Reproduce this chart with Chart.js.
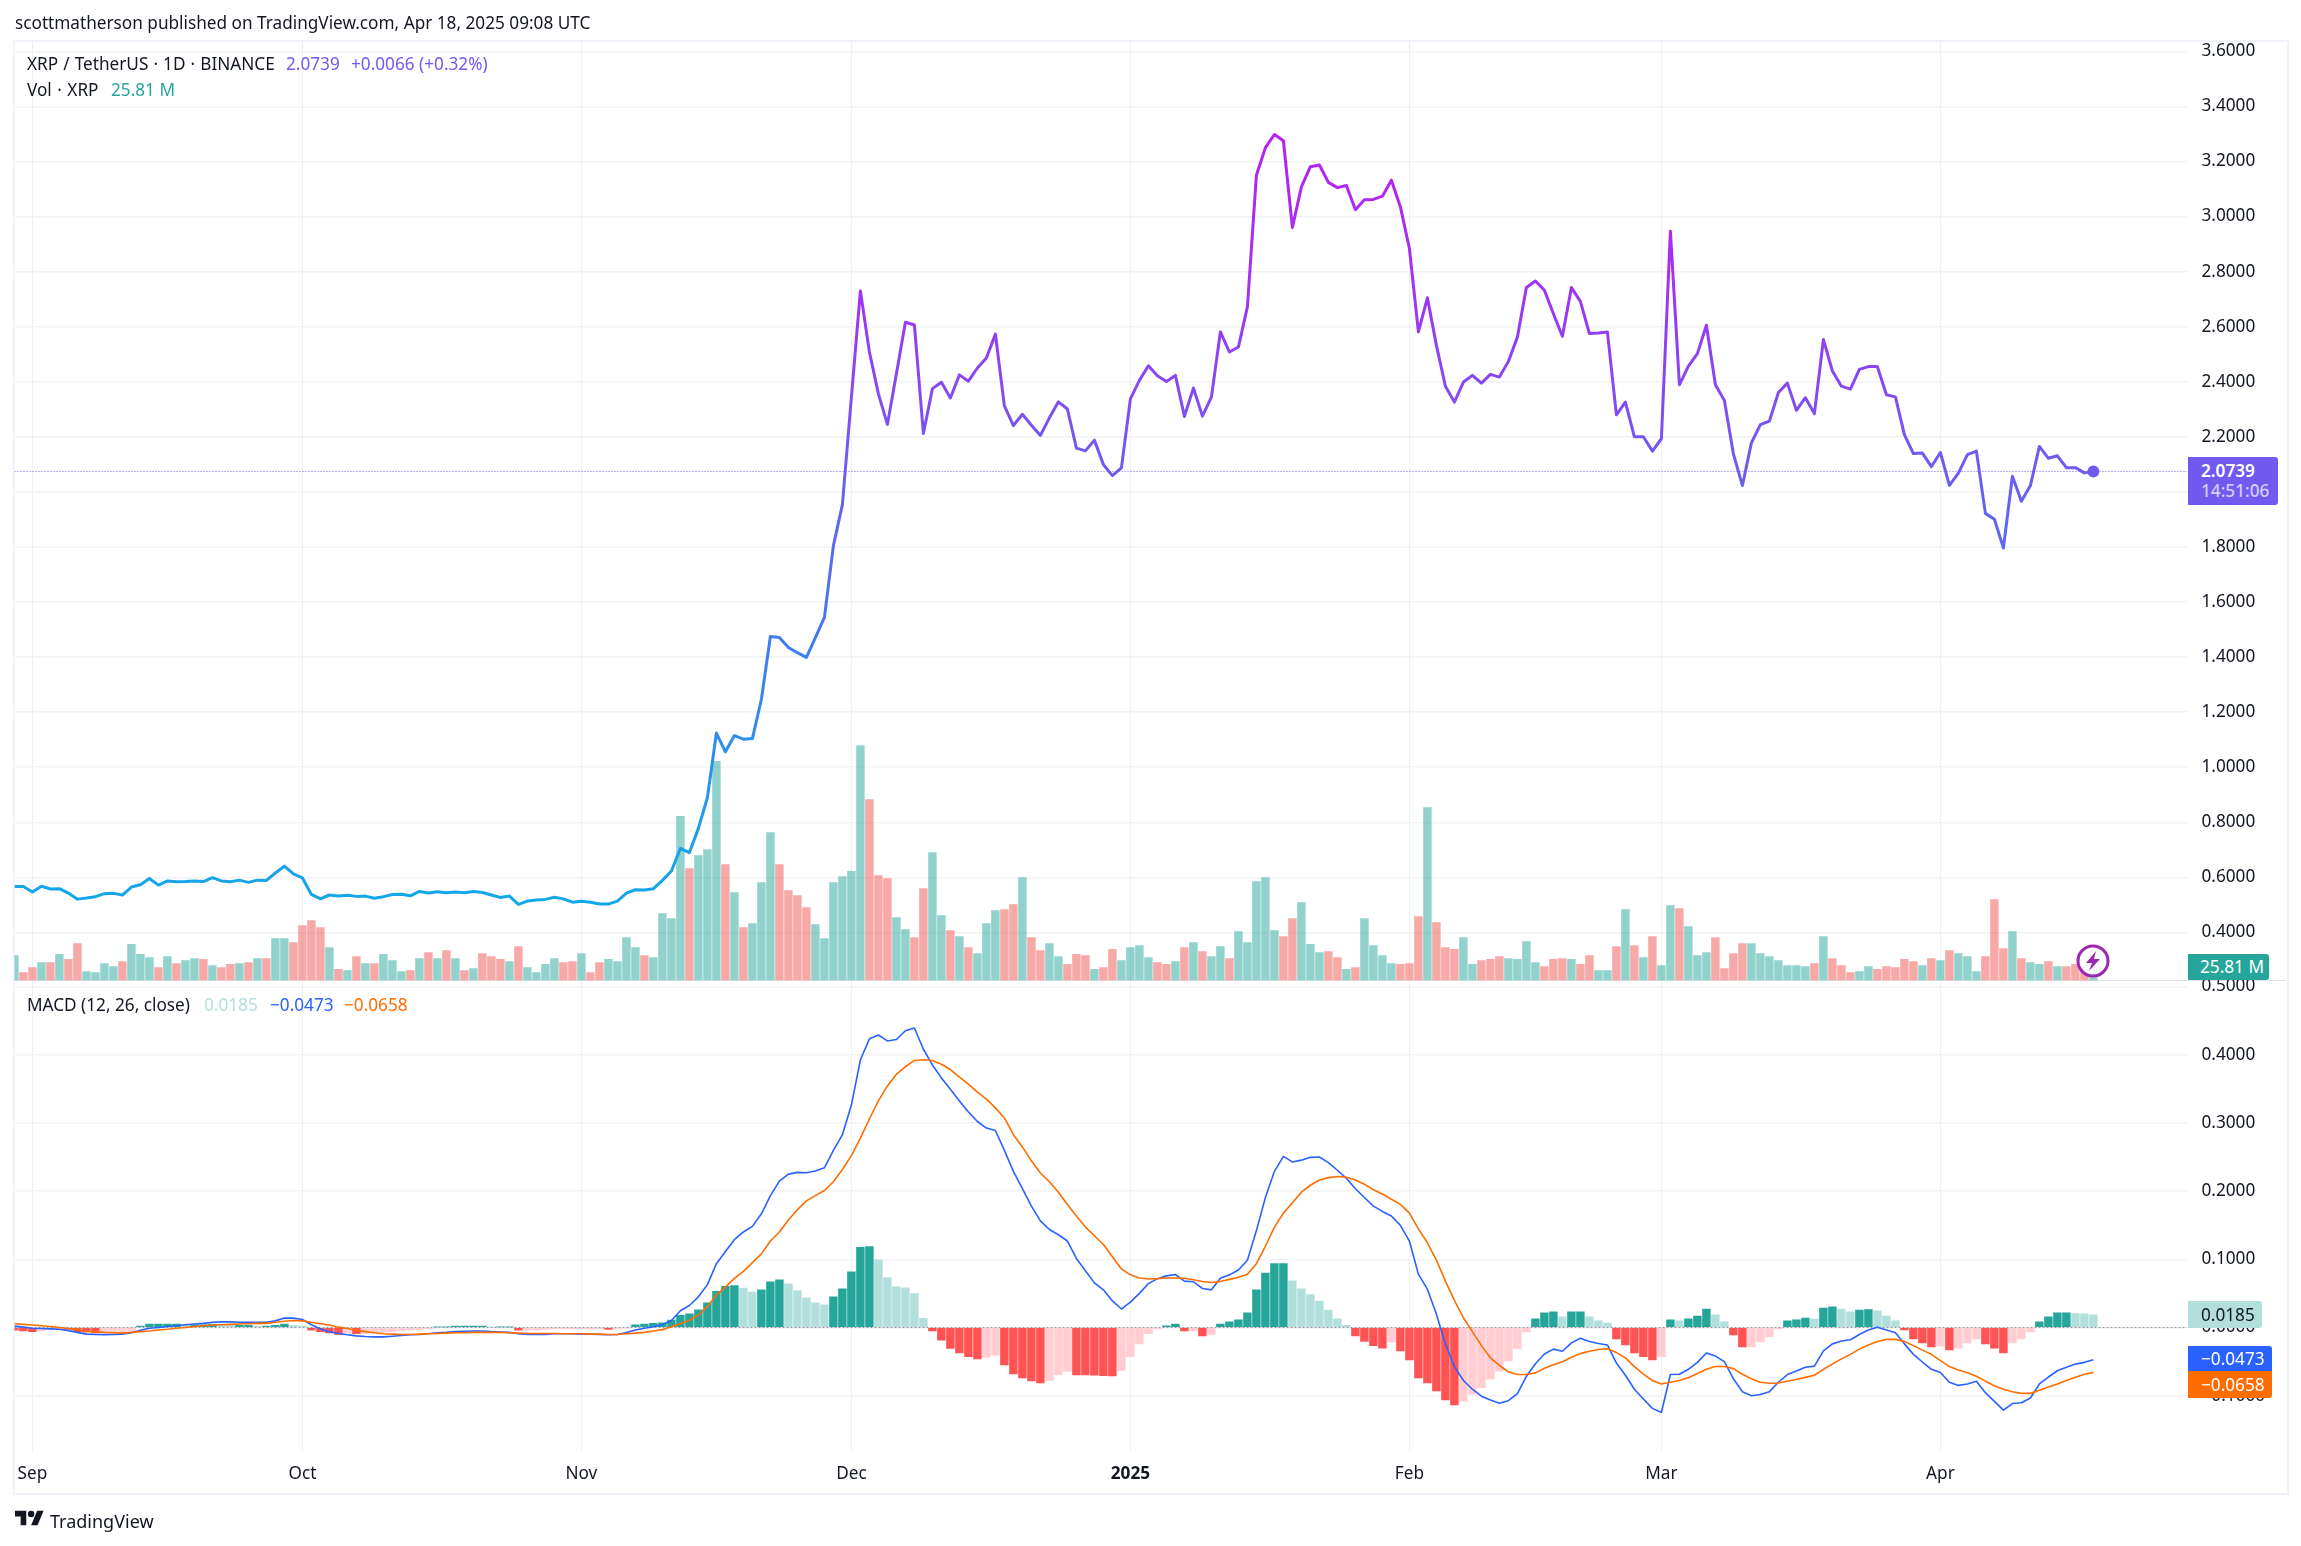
<!DOCTYPE html>
<html>
<head>
<meta charset="utf-8">
<script src="https://cdn.jsdelivr.net/npm/chart.js@4"></script>
<style>
  html, body { margin: 0; padding: 0; background: #fff; }
  body { width: 2301px; height: 1546px; position: relative; overflow: hidden; font-family: "Noto Sans", sans-serif; font-size: 17.2px; color: #131722; }
  canvas { position: absolute; left: 0; top: 0; }
  .t { position: absolute; white-space: nowrap; line-height: 24px; }
  .box { position: absolute; left: 2188px; border-radius: 0 3px 3px 0; }
  #frame { position: absolute; left: 13px; top: 40px; width: 2272px; height: 1451px; border: 2px solid #f0f3fa; }
  #sep { position: absolute; left: 15px; top: 980px; width: 2271px; height: 1px; background: #e0e3eb; }
</style>
</head>
<body>
<div id="frame"></div>
<div id="sep"></div>
<canvas id="graficoPreco" width="2301" height="1546"></canvas>
<canvas id="graficoMacd" width="2301" height="1546"></canvas>

<div class="t" style="left:15px;top:11px">scottmatherson published on TradingView.com, Apr 18, 2025 09:08 UTC</div>
<div class="t" style="left:27px;top:52px;word-spacing:0.6px">XRP / TetherUS · 1D · BINANCE</div>
<div class="t" style="left:286px;top:52px;color:#7259f0">2.0739</div>
<div class="t" style="left:351px;top:52px;color:#7259f0">+0.0066 (+0.32%)</div>
<div class="t" style="left:27px;top:78px;word-spacing:1px">Vol · XRP</div>
<div class="t" style="left:111px;top:78px;color:#26a69a">25.81 M</div>
<div class="t" style="left:27px;top:993px">MACD (12, 26, close)</div>
<div class="t" style="left:204px;top:993px;color:#b2dfdb">0.0185</div>
<div class="t" style="left:270px;top:993px;color:#2962ff">−0.0473</div>
<div class="t" style="left:344px;top:993px;color:#ff6d00">−0.0658</div>

<div class="box" style="top:457px;width:90px;height:48px;background:#7259f0"></div>
<div class="t" style="left:2201px;top:459px;color:#fff;font-weight:600">2.0739</div>
<div class="t" style="left:2201px;top:479px;color:#d5cdfa;font-weight:500">14:51:06</div>
<div class="box" style="top:954px;width:81px;height:26px;background:#26a69a"></div>
<div class="t" style="left:2200px;top:955px;color:#fff">25.81 M</div>
<div class="box" style="top:1301px;width:74px;height:27px;background:#b2dfdb"></div>
<div class="t" style="left:2201px;top:1303px">0.0185</div>
<div class="box" style="top:1346px;width:84px;height:25px;background:#2962ff;border-radius:0 3px 0 0"></div>
<div class="t" style="left:2201px;top:1347px;color:#fff">−0.0473</div>
<div class="box" style="top:1371px;width:84px;height:27px;background:#ff6d00;border-radius:0 0 3px 0"></div>
<div class="t" style="left:2201px;top:1373px;color:#fff">−0.0658</div>

<svg style="position:absolute;left:2076px;top:944px" width="34" height="34" viewBox="0 0 34 34">
  <circle cx="17" cy="17" r="15" fill="#fff" stroke="#9c27b0" stroke-width="3"/>
  <path d="M20 7 L10 19 H16 L13 27 L24 15 H18 Z" fill="#9c27b0"/>
</svg>
<svg style="position:absolute;left:15px;top:1509px" width="29" height="18" viewBox="0 4 36 18">
  <path d="M14 22H7V11H0V4h14v18zM28 22h-8l7.5-18h8L28 22z" fill="#131722"/>
  <circle cx="20" cy="8" r="4" fill="#131722"/>
</svg>
<div class="t" style="left:50px;top:1509px;font-size:18px">TradingView</div>

<script>
// dias contados a partir de 1 de setembro; a serie comeca em 30 de agosto
const primeiroDia = -2;
const diasMes = [0, 30, 61, 91, 122, 153, 181, 212];
const nomesMes = ['Sep', 'Oct', 'Nov', 'Dec', '2025', 'Feb', 'Mar', 'Apr'];
const ticksPreco = [3.6, 3.4, 3.2, 3.0, 2.8, 2.6, 2.4, 2.2, 2.0, 1.8, 1.6, 1.4, 1.2, 1.0, 0.8, 0.6, 0.4];
const ticksMacd = [0.5, 0.4, 0.3, 0.2, 0.1, 0, -0.1];

const fechamentos = [
  .567,.567,.547,.568,.558,.559,.543,.521,.525,.530,
  .541,.542,.536,.565,.573,.596,.572,.587,.584,.585,
  .587,.585,.599,.587,.584,.590,.582,.590,.589,.616,
  .641,.613,.598,.538,.522,.536,.532,.535,.531,.532,
  .524,.530,.538,.539,.533,.549,.543,.548,.544,.547,
  .544,.549,.545,.536,.527,.532,.502,.514,.518,.520,
  .528,.522,.510,.513,.510,.503,.503,.514,.543,.555,
  .554,.559,.589,.623,.705,.690,.778,.890,1.124,1.056,
  1.115,1.102,1.104,1.247,1.475,1.471,1.435,1.416,1.399,1.471,
  1.544,1.805,1.954,2.344,2.730,2.508,2.356,2.245,2.429,2.616,
  2.606,2.212,2.375,2.398,2.341,2.425,2.402,2.450,2.486,2.573,
  2.312,2.241,2.282,2.242,2.205,2.269,2.327,2.301,2.159,2.149,
  2.188,2.099,2.059,2.087,2.338,2.405,2.458,2.422,2.401,2.423,
  2.274,2.377,2.275,2.344,2.581,2.508,2.526,2.672,3.150,3.250,
  3.298,3.275,2.960,3.108,3.181,3.187,3.124,3.105,3.113,3.025,
  3.061,3.062,3.074,3.132,3.035,2.884,2.581,2.705,2.532,2.384,
  2.326,2.399,2.423,2.395,2.427,2.417,2.474,2.562,2.742,2.766,
  2.732,2.647,2.565,2.742,2.692,2.575,2.577,2.581,2.280,2.326,
  2.200,2.200,2.148,2.193,2.947,2.389,2.457,2.502,2.605,2.389,
  2.332,2.138,2.023,2.178,2.244,2.257,2.361,2.395,2.296,2.342,
  2.284,2.553,2.439,2.384,2.373,2.445,2.455,2.455,2.353,2.345,
  2.208,2.139,2.141,2.092,2.143,2.024,2.068,2.135,2.148,1.922,
  1.901,1.796,2.057,1.966,2.023,2.165,2.122,2.131,2.088,2.088,
  2.069,2.0739
];

// volume em milhoes
const volumes = [
  215,69,112,155,155,224,181,318,77,69,
  146,120,163,310,224,198,112,206,146,172,
  189,181,129,112,138,146,155,189,189,361,
  361,327,473,516,456,284,95,86,206,146,
  146,224,172,77,86,189,241,189,258,189,
  86,103,232,206,181,163,292,112,69,138,
  189,155,163,232,69,155,181,163,370,284,
  215,198,576,533,1411,963,1075,1127,1884,998,
  757,456,490,843,1273,998,774,731,628,482,
  361,843,894,938,2021,1557,903,877,542,439,
  370,791,1101,559,430,378,284,232,490,602,
  611,654,886,370,258,318,206,138,224,215,
  95,112,267,172,284,301,198,155,138,163,
  284,327,249,206,292,189,421,327,851,886,
  430,378,533,671,310,241,249,198,95,112,
  533,301,215,146,138,146,550,1488,499,284,
  267,370,138,172,181,206,189,181,335,155,
  120,181,189,181,138,215,86,86,292,611,
  301,198,378,129,645,619,464,215,241,370,
  103,232,318,318,232,206,172,129,129,120,
  146,378,189,129,69,77,120,95,120,112,
  181,163,129,189,172,258,232,206,77,206,
  697,275,421,189,155,138,163,120,120,138,
  100,25.81
];

const volumeSobe = [
  1,0,0,1,0,1,0,0,1,1,
  1,1,0,1,1,1,0,1,0,1,
  1,0,1,0,0,1,0,1,0,1,
  1,0,0,0,0,1,0,1,0,1,
  0,1,1,1,0,1,0,1,0,1,
  0,1,0,0,0,1,0,1,1,1,
  1,0,0,1,0,0,1,1,1,1,
  0,1,1,1,1,0,1,1,1,0,
  1,0,1,1,1,0,0,0,0,1,
  1,1,1,1,1,0,0,0,1,1,
  0,0,1,1,0,1,0,1,1,1,
  0,0,1,0,0,1,1,0,0,0,
  1,0,0,1,1,1,1,0,0,1,
  0,1,0,1,1,0,1,1,1,1,
  1,0,0,1,1,1,0,0,1,0,
  1,1,1,1,0,0,0,1,0,0,
  0,1,1,0,0,0,1,1,1,1,
  0,0,0,1,0,0,1,1,0,1,
  0,1,0,1,1,0,1,1,1,0,
  0,0,0,1,1,1,1,1,1,1,
  0,1,0,0,0,1,1,0,0,0,
  0,0,1,0,1,0,1,1,1,0,
  0,0,1,0,1,1,0,1,0,0,
  0,1
];

const linhaMacd = [
  .002,.0005,-.001,-.0015,-.002,-.0026,-.0046,-.0072,-.0097,-.0102,
  -.0105,-.0102,-.0097,-.0077,-.0041,-.001,0,.0015,.0026,.0041,
  .0051,.0061,.0077,.0082,.0082,.0077,.0077,.0077,.0077,.0097,
  .0138,.0138,.0118,.0041,-.002,-.0061,-.0087,-.0107,-.0123,-.0133,
  -.0138,-.0138,-.0128,-.0118,-.0107,-.0102,-.0092,-.0077,-.0072,-.0061,
  -.0056,-.0051,-.0051,-.0061,-.0066,-.0072,-.0092,-.0102,-.0102,-.0102,
  -.0092,-.0092,-.0092,-.0097,-.0097,-.0102,-.0107,-.0102,-.0072,-.0036,
  -.001,.001,.0041,.0102,.0245,.0322,.045,.0629,.0936,.1115,
  .1288,.1401,.1483,.1667,.1933,.2147,.2249,.2275,.227,.2296,
  .2342,.2597,.2827,.3262,.3926,.4233,.4289,.4202,.4223,.4351,
  .4392,.408,.385,.366,.3492,.3323,.316,.3021,.2924,.2889,
  .2597,.229,.2035,.1779,.1564,.1437,.136,.1268,.1012,.0833,
  .0654,.0552,.0389,.0271,.0373,.0501,.0644,.0716,.0757,.0777,
  .068,.067,.0573,.0552,.0721,.0772,.0844,.0987,.1421,.1907,
  .229,.251,.2428,.2454,.2495,.25,.2418,.2306,.2188,.2035,
  .1907,.1779,.1702,.1636,.1498,.1268,.0782,.0562,.0194,-.024,
  -.0573,-.0777,-.0905,-.1007,-.1063,-.111,-.1074,-.0971,-.0716,-.0532,
  -.0389,-.0317,-.0348,-.0225,-.0158,-.0205,-.0235,-.0256,-.0521,-.07,
  -.0905,-.1048,-.1186,-.1247,-.069,-.0685,-.0613,-.0511,-.0373,-.0419,
  -.0501,-.0752,-.0941,-.1002,-.0982,-.0941,-.0803,-.069,-.0639,-.0583,
  -.0567,-.0343,-.024,-.0199,-.0179,-.0102,-.0036,.0005,-.0036,-.0077,
  -.024,-.0394,-.0506,-.0613,-.066,-.0803,-.0849,-.0828,-.0787,-.0956,
  -.1084,-.1212,-.1115,-.1104,-.1033,-.0828,-.0726,-.0634,-.0583,-.0537,
  -.0511,-.0473
];

const linhaSinal = [
  .0056,.0046,.0036,.0026,.0015,0,-.0015,-.0031,-.0051,-.0061,
  -.0072,-.0077,-.0082,-.0072,-.0061,-.0051,-.0036,-.0026,-.001,0,
  .0015,.0026,.0036,.0041,.0046,.0051,.0056,.0061,.0061,.0077,
  .0092,.0102,.0097,.0077,.0056,.0036,.0005,-.0015,-.0041,-.0061,
  -.0077,-.0092,-.0097,-.0102,-.0102,-.0097,-.0092,-.0087,-.0082,-.0077,
  -.0077,-.0072,-.0072,-.0072,-.0072,-.0077,-.0082,-.0087,-.0087,-.0087,
  -.0087,-.0092,-.0092,-.0092,-.0097,-.0097,-.0102,-.0102,-.0092,-.0082,
  -.0072,-.0051,-.0031,.001,.0056,.0107,.0179,.0307,.0475,.0593,
  .0721,.0823,.0951,.1079,.1268,.1401,.1575,.1728,.1856,.1933,
  .2009,.2137,.2316,.252,.2776,.3057,.3323,.3543,.3712,.3824,
  .3916,.3926,.3916,.386,.3783,.3671,.3569,.3451,.3349,.3221,
  .3073,.2827,.2648,.2444,.2265,.2137,.1984,.1805,.1636,.1472,
  .1345,.1217,.1038,.0859,.0772,.0726,.0711,.0716,.0726,.0726,
  .0721,.07,.0675,.066,.0675,.0706,.0736,.0782,.0936,.1191,
  .1472,.1677,.183,.1984,.2086,.2163,.2198,.2214,.2204,.2163,
  .2101,.2019,.1958,.1881,.1805,.1677,.1447,.1242,.0987,.068,
  .0399,.0143,-.0061,-.0266,-.0445,-.0557,-.0649,-.069,-.069,-.0665,
  -.0598,-.0547,-.0501,-.0435,-.0383,-.0348,-.0322,-.0312,-.0368,-.0445,
  -.0573,-.0685,-.0777,-.0828,-.0803,-.0777,-.0736,-.0675,-.0613,-.0573,
  -.0573,-.0603,-.0685,-.0752,-.0803,-.0818,-.0813,-.0787,-.0762,-.0731,
  -.07,-.0613,-.0537,-.046,-.0394,-.0317,-.0256,-.0205,-.0174,-.0174,
  -.0205,-.0266,-.0332,-.0394,-.0486,-.0573,-.0624,-.0665,-.0716,-.0787,
  -.0854,-.0905,-.0941,-.0966,-.0966,-.092,-.0874,-.0828,-.0777,-.0731,
  -.0685,-.0658
];

const histograma = [
  -.004,-.005,-.006,-.005,-.002,-.002,-.003,-.006,-.007,-.008,
  -.007,-.007,-.006,-.005,.002,.005,.005,.005,.005,.004,
  .004,.004,.005,.004,.003,.003,.003,.002,.002,.003,
  .005,.003,.002,-.004,-.006,-.008,-.01,-.008,-.009,-.009,
  -.008,-.007,-.006,-.005,-.004,-.003,-.002,.001,.001,.002,
  .002,.002,.002,.001,.001,.001,-.004,-.004,-.004,-.003,
  -.002,-.002,-.002,-.002,-.002,-.002,-.003,-.002,-.001,.004,
  .005,.006,.007,.011,.018,.02,.026,.036,.053,.0603,
  .0613,.0578,.0521,.0552,.067,.07,.0639,.0542,.0435,.0363,
  .0332,.045,.0567,.0818,.1176,.1186,.0992,.0731,.0598,.0583,
  .0496,.0133,-.0051,-.0184,-.0307,-.0373,-.0429,-.046,-.044,-.0404,
  -.0547,-.068,-.0741,-.0782,-.0813,-.0777,-.069,-.0644,-.0695,-.0697,
  -.07,-.0705,-.071,-.0634,-.0429,-.024,-.0092,-.002,.0026,.005,
  -.0051,-.0051,-.0123,-.0102,.0051,.0082,.0112,.0215,.0552,.0798,
  .0936,.0936,.0685,.0567,.0481,.0389,.0256,.0128,.0031,-.0123,
  -.0204,-.0266,-.0302,-.0215,-.0343,-.0475,-.0741,-.0813,-.093,-.1063,
  -.1135,-.1079,-.0976,-.0884,-.0757,-.0639,-.0491,-.0307,-.0066,.0128,
  .0215,.023,.0158,.023,.023,.0158,.0097,.0066,-.0169,-.0256,
  -.0373,-.0429,-.0475,-.0429,.0112,.0097,.0128,.0169,.0271,.0184,
  .0082,-.0107,-.0286,-.0286,-.021,-.0138,-.002,.0097,.0112,.0138,
  .0123,.0286,.0302,.0271,.023,.0256,.0261,.0245,.0169,.0097,
  -.0036,-.0169,-.0225,-.0286,-.0271,-.0327,-.0302,-.0225,-.0169,-.024,
  -.0302,-.0373,-.0225,-.0169,-.0066,.0082,.0158,.0215,.0215,.0205,
  .0199,.0185
];

const fonte = { family: '"Noto Sans", sans-serif', size: 17.2 };
const corTexto = '#131722';
const corGrade = '#f1f2f5';
const xMin = -1.99, xMax = 239.4;

const pontos = serie => serie.map((y, i) => ({ x: primeiroDia + i, y }));

function ticksFixos(valores) {
  return scale => { scale.ticks = valores.map(value => ({ value })); };
}

function eixoX(comRotulos) {
  return {
    type: 'linear',
    min: xMin,
    max: xMax,
    offset: false,
    afterBuildTicks: ticksFixos(diasMes),
    afterFit: scale => { scale.height = comRotulos ? 95 : 0; },
    border: { display: false },
    grid: { offset: false, color: '#eff0f3', lineWidth: 1, drawTicks: false },
    ticks: {
      display: comRotulos,
      padding: 13,
      autoSkip: false,
      maxRotation: 0,
      color: corTexto,
      font: ctx => (ctx.index === 4 ? { ...fonte, weight: 'bold' } : fonte),
      callback: (value, index) => nomesMes[index]
    }
  };
}

function eixoY(min, max, valores) {
  return {
    position: 'right',
    min,
    max,
    afterBuildTicks: ticksFixos(valores),
    afterFit: scale => { scale.width = 114; },
    border: { display: false },
    grid: { color: corGrade, lineWidth: 1.5, drawTicks: false },
    ticks: {
      padding: 14.5,
      autoSkip: false,
      color: corTexto,
      font: fonte,
      callback: value => value.toFixed(4).replace('-', '−')
    }
  };
}

// a cor da linha de preco muda com a altura
function gradientePreco(context) {
  const { chart } = context;
  if (!chart.chartArea) return '#7259f0';
  const y = chart.scales.yPreco;
  const g = chart.ctx.createLinearGradient(0, y.getPixelForValue(3.3), 0, y.getPixelForValue(0.5));
  g.addColorStop(0, '#b91ff3');
  g.addColorStop(0.2, '#a033f5');
  g.addColorStop(0.42, '#7259f0');
  g.addColorStop(0.68, '#3d7fee');
  g.addColorStop(1, '#12a8e8');
  return g;
}

const ultimo = fechamentos[fechamentos.length - 1];

new Chart(document.getElementById('graficoPreco'), {
  data: {
    datasets: [
      {
        type: 'line',
        order: 0,
        yAxisID: 'yPreco',
        data: pontos(fechamentos),
        borderColor: gradientePreco,
        backgroundColor: '#7259f0',
        borderWidth: 3,
        borderJoinStyle: 'round',
        tension: 0,
        pointRadius: ctx => (ctx.dataIndex === fechamentos.length - 1 ? 4.5 : 0)
      },
      {
        type: 'line',
        order: 1,
        yAxisID: 'yPreco',
        data: [{ x: xMin, y: ultimo }, { x: xMax, y: ultimo }],
        borderColor: '#7259f0',
        borderWidth: 1,
        borderDash: [1, 2],
        pointRadius: 0
      },
      {
        type: 'bar',
        order: 2,
        yAxisID: 'yVol',
        data: pontos(volumes),
        backgroundColor: volumeSobe.map(v => (v ? 'rgba(38,166,154,0.5)' : 'rgba(239,83,80,0.5)')),
        barThickness: 7.8
      }
    ]
  },
  options: {
    responsive: false,
    animation: false,
    layout: { padding: { top: 41, left: 14.5, bottom: 565.5 } },
    plugins: { legend: { display: false }, tooltip: { enabled: false } },
    scales: {
      x: eixoX(false),
      yPreco: eixoY(0.2255, 3.6375, ticksPreco),
      yVol: { display: false, min: 0, max: 8080 }
    }
  }
});

new Chart(document.getElementById('graficoMacd'), {
  data: {
    datasets: [
      {
        type: 'line',
        order: 0,
        data: pontos(linhaSinal),
        borderColor: '#ff6d00',
        borderWidth: 1.6,
        borderJoinStyle: 'round',
        tension: 0,
        pointRadius: 0
      },
      {
        type: 'line',
        order: 1,
        data: pontos(linhaMacd),
        borderColor: '#2962ff',
        borderWidth: 1.6,
        borderJoinStyle: 'round',
        tension: 0,
        pointRadius: 0
      },
      {
        type: 'line',
        order: 2,
        data: [{ x: xMin, y: 0 }, { x: xMax, y: 0 }],
        borderColor: '#9598a1',
        borderWidth: 1,
        borderDash: [2, 2],
        pointRadius: 0
      },
      {
        type: 'bar',
        order: 3,
        data: pontos(histograma),
        backgroundColor: histograma.map((h, i) => {
          const anterior = i ? histograma[i - 1] : 0;
          if (h >= 0) return h >= anterior ? '#26a69a' : '#b2dfdb';
          return h < anterior ? '#ff5252' : '#ffcdd2';
        }),
        barThickness: 7.8
      }
    ]
  },
  options: {
    responsive: false,
    animation: false,
    layout: { padding: { top: 981, left: 14.5 } },
    plugins: { legend: { display: false }, tooltip: { enabled: false } },
    scales: {
      x: eixoX(true),
      y: eixoY(-0.1811, 0.5081, ticksMacd)
    }
  }
});
</script>
</body>
</html>
